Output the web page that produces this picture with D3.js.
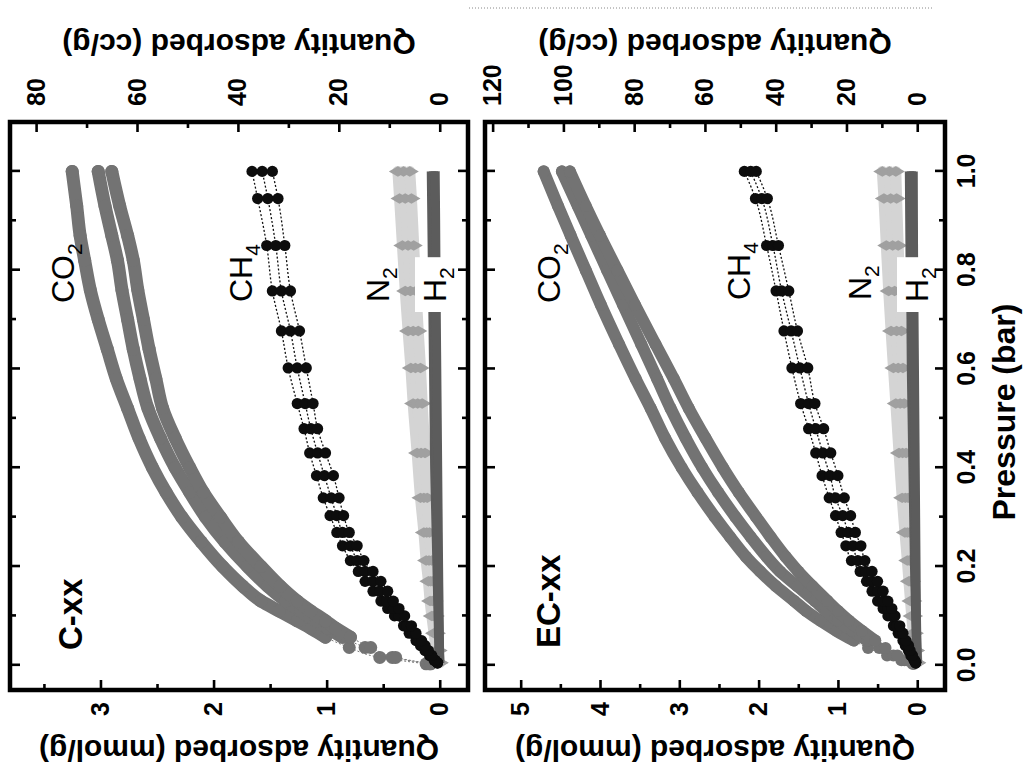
<!DOCTYPE html>
<html>
<head>
<meta charset="utf-8">
<script src="https://cdn.jsdelivr.net/npm/d3@7"></script>
<style>
  html, body { margin: 0; padding: 0; background: #fff; }
  svg { display: block; }
</style>
</head>
<body>
<svg id="chart" width="1028" height="774"></svg>
<script>
// ---------------- data ----------------
const panelNames = ["C-xx", "EC-xx"];
const pressureTicks = [0, 0.2, 0.4, 0.6, 0.8, 1.0];
const pressureMinor = [0.1, 0.3, 0.5, 0.7, 0.9];

const cxxMmolTicks = [0, 1, 2, 3];
const cxxMmolMinor = [0.5, 1.5, 2.5, 3.5];
const cxxCcTicks = [0, 20, 40, 60, 80];
const cxxCcMinor = [10, 30, 50, 70];
const ecxxMmolTicks = [0, 1, 2, 3, 4, 5];
const ecxxMmolMinor = [0.5, 1.5, 2.5, 3.5, 4.5];
const ecxxCcTicks = [0, 20, 40, 60, 80, 100, 120];
const ecxxCcMinor = [10, 30, 50, 70, 90, 110];

// CO2 uptake (mmol/g), three runs per material
const cxxCO2Pressure = [0.003, 0.016, 0.036, 0.057, 0.075, 0.09, 0.11, 0.13, 0.16, 0.2, 0.25, 0.3, 0.35, 0.4, 0.46, 0.52, 0.58, 0.64, 0.7, 0.76, 0.82, 0.87, 0.93, 1.0];
const cxxCO2 = [
  [0.12, 0.53, 0.80, 1.01, 1.14, 1.26, 1.42, 1.58, 1.74, 1.92, 2.11, 2.28, 2.42, 2.54, 2.66, 2.76, 2.86, 2.94, 3.02, 3.09, 3.14, 3.18, 3.21, 3.25],
  [0.09, 0.42, 0.66, 0.86, 0.99, 1.09, 1.23, 1.36, 1.52, 1.70, 1.90, 2.07, 2.21, 2.34, 2.47, 2.58, 2.65, 2.71, 2.76, 2.81, 2.85, 2.90, 2.96, 3.02],
  [0.08, 0.39, 0.61, 0.79, 0.92, 1.01, 1.14, 1.26, 1.41, 1.58, 1.78, 1.94, 2.09, 2.21, 2.34, 2.45, 2.51, 2.57, 2.62, 2.67, 2.71, 2.76, 2.83, 2.90]
];
const ecxxCO2Pressure = [0.003, 0.01, 0.02, 0.035, 0.05, 0.07, 0.09, 0.11, 0.13, 0.16, 0.19, 0.22, 0.26, 0.3, 0.35, 0.4, 0.46, 0.52, 0.58, 0.65, 0.73, 0.8, 0.87, 0.93, 1.0];
const ecxxCO2 = [
  [0.06, 0.20, 0.38, 0.62, 0.80, 1.02, 1.22, 1.40, 1.55, 1.78, 1.98, 2.16, 2.36, 2.55, 2.77, 2.97, 3.18, 3.36, 3.55, 3.76, 3.99, 4.18, 4.37, 4.53, 4.71],
  [0.05, 0.16, 0.30, 0.48, 0.63, 0.82, 1.00, 1.15, 1.29, 1.51, 1.73, 1.90, 2.10, 2.29, 2.51, 2.71, 2.92, 3.11, 3.28, 3.48, 3.71, 3.91, 4.11, 4.28, 4.48],
  [0.04, 0.13, 0.25, 0.40, 0.53, 0.70, 0.86, 1.00, 1.13, 1.32, 1.50, 1.66, 1.85, 2.03, 2.25, 2.45, 2.67, 2.88, 3.07, 3.30, 3.56, 3.78, 4.00, 4.18, 4.38]
];

// CH4 uptake (mmol/g)
const ch4Pressure = [0.005, 0.01, 0.02, 0.03, 0.04, 0.05, 0.065, 0.08, 0.1, 0.115, 0.13, 0.15, 0.17, 0.19, 0.212, 0.242, 0.269, 0.303, 0.339, 0.384, 0.43, 0.479, 0.53, 0.602, 0.677, 0.758, 0.85, 0.945, 1.0];
const cxxCH4 = [
  [0.02, 0.05, 0.09, 0.13, 0.17, 0.21, 0.27, 0.32, 0.40, 0.46, 0.52, 0.59, 0.66, 0.72, 0.79, 0.86, 0.91, 0.97, 1.03, 1.09, 1.15, 1.20, 1.26, 1.34, 1.40, 1.48, 1.53, 1.61, 1.66],
  [0.02, 0.04, 0.08, 0.12, 0.15, 0.19, 0.24, 0.29, 0.36, 0.41, 0.47, 0.53, 0.59, 0.66, 0.73, 0.79, 0.86, 0.91, 0.96, 1.02, 1.08, 1.14, 1.19, 1.26, 1.32, 1.40, 1.45, 1.52, 1.57],
  [0.02, 0.04, 0.07, 0.10, 0.13, 0.16, 0.21, 0.25, 0.31, 0.36, 0.41, 0.46, 0.52, 0.59, 0.67, 0.73, 0.80, 0.85, 0.89, 0.94, 1.01, 1.08, 1.12, 1.18, 1.24, 1.32, 1.37, 1.43, 1.48]
];
const ecxxCH4 = [
  [0.02, 0.04, 0.08, 0.11, 0.15, 0.18, 0.24, 0.30, 0.37, 0.43, 0.50, 0.57, 0.64, 0.72, 0.83, 0.90, 0.96, 1.03, 1.11, 1.20, 1.28, 1.37, 1.47, 1.58, 1.68, 1.78, 1.90, 2.04, 2.18],
  [0.02, 0.04, 0.07, 0.10, 0.13, 0.16, 0.21, 0.26, 0.32, 0.37, 0.43, 0.50, 0.57, 0.65, 0.75, 0.81, 0.87, 0.94, 1.03, 1.10, 1.19, 1.28, 1.37, 1.48, 1.59, 1.71, 1.82, 1.96, 2.10],
  [0.02, 0.03, 0.06, 0.09, 0.11, 0.14, 0.18, 0.22, 0.28, 0.32, 0.37, 0.43, 0.50, 0.57, 0.66, 0.71, 0.78, 0.84, 0.92, 1.00, 1.09, 1.18, 1.29, 1.38, 1.51, 1.62, 1.75, 1.89, 2.03]
];

// N2 uptake (mmol/g)
const n2Pressure = [0.005, 0.03, 0.065, 0.1, 0.13, 0.17, 0.212, 0.269, 0.339, 0.43, 0.53, 0.602, 0.677, 0.758, 0.85, 0.945, 1.0];
const cxxN2 = [
  [0.01, 0.03, 0.05, 0.07, 0.085, 0.10, 0.12, 0.14, 0.17, 0.20, 0.235, 0.255, 0.28, 0.305, 0.33, 0.355, 0.37],
  [0.005, 0.02, 0.035, 0.05, 0.065, 0.08, 0.095, 0.115, 0.14, 0.165, 0.195, 0.215, 0.235, 0.26, 0.28, 0.305, 0.32],
  [0, 0.01, 0.025, 0.035, 0.045, 0.06, 0.07, 0.09, 0.11, 0.13, 0.155, 0.17, 0.19, 0.21, 0.23, 0.25, 0.265]
];
const ecxxN2 = [
  [0.01, 0.03, 0.05, 0.07, 0.085, 0.105, 0.125, 0.155, 0.19, 0.23, 0.27, 0.30, 0.33, 0.36, 0.39, 0.42, 0.44],
  [0.005, 0.02, 0.04, 0.055, 0.07, 0.085, 0.10, 0.125, 0.15, 0.185, 0.215, 0.24, 0.26, 0.285, 0.31, 0.335, 0.35],
  [0, 0.015, 0.03, 0.04, 0.05, 0.065, 0.08, 0.095, 0.115, 0.14, 0.165, 0.18, 0.20, 0.22, 0.24, 0.26, 0.27]
];

// H2 uptake (mmol/g)
const h2Pressure = [0.005, 0.1, 0.2, 0.3, 0.4, 0.5, 0.6, 0.7, 0.8, 0.9, 1.0];
const cxxH2 = [
  [0.005, 0.015, 0.025, 0.035, 0.045, 0.05, 0.055, 0.06, 0.065, 0.07, 0.075],
  [0, 0.01, 0.018, 0.025, 0.03, 0.035, 0.04, 0.045, 0.05, 0.053, 0.056],
  [0, 0.005, 0.01, 0.014, 0.018, 0.022, 0.026, 0.03, 0.033, 0.036, 0.04]
];
const ecxxH2 = [
  [0.005, 0.02, 0.035, 0.045, 0.055, 0.065, 0.075, 0.08, 0.09, 0.095, 0.10],
  [0, 0.015, 0.025, 0.035, 0.04, 0.05, 0.055, 0.06, 0.065, 0.07, 0.075],
  [0, 0.01, 0.015, 0.02, 0.025, 0.03, 0.035, 0.04, 0.045, 0.048, 0.05]
];

// ---------------- layout ----------------
const FONT = "'Liberation Sans', Arial, Helvetica, sans-serif";
const MMOL_TO_CC = 22.414;          // cm3(STP) per mmol
const W0 = 774;                     // width of the upright figure (page height)
const PLOT_X0 = 84, PLOT_X1 = 652;

const svg = d3.select("#chart");
svg.append("rect").attr("width", 1028).attr("height", 774).attr("fill", "#fff");

// The figure is laid out upright and then turned a quarter-turn counter-clockwise.
const root = svg.append("g").attr("transform", `translate(0,${W0}) rotate(-90)`);

const x = d3.scaleLinear().domain([-0.05, 1.1]).range([PLOT_X0, PLOT_X1]);

const panels = [
  { key: "cxx", name: panelNames[0], y0: 10, y1: 468, mmolDomain: [-0.25, 3.8],
    mmolTicks: cxxMmolTicks, mmolMinor: cxxMmolMinor, ccTicks: cxxCcTicks, ccMinor: cxxCcMinor,
    co2P: cxxCO2Pressure, co2: cxxCO2, ch4: cxxCH4, n2: cxxN2, h2: cxxH2, showX: false,
    co2Width: 13,
    nameAt: [124, 82],
    gasAt: { CO2: [471, 74], CH4: [472, 252], N2: [472, 389], H2: [472, 446] } },
  { key: "ecxx", name: panelNames[1], y0: 485, y1: 945, mmolDomain: [-0.35, 5.45],
    mmolTicks: ecxxMmolTicks, mmolMinor: ecxxMmolMinor, ccTicks: ecxxCcTicks, ccMinor: ecxxCcMinor,
    co2P: ecxxCO2Pressure, co2: ecxxCO2, ch4: ecxxCH4, n2: ecxxN2, h2: ecxxH2, showX: true,
    co2Width: 12,
    nameAt: [126, 560],
    gasAt: { CO2: [471, 560], CH4: [474, 750], N2: [474, 871], H2: [472, 928] } }
];

function styleAxis(sel, size) {
  sel.select(".domain").remove();
  sel.selectAll(".tick line").attr("stroke", "#000").attr("stroke-width", 2.6);
  sel.selectAll(".tick text")
    .attr("fill", "#000")
    .style("font-family", FONT)
    .style("font-weight", "bold")
    .style("font-size", size + "px");
}

function gasLabel(g, main, sub, pos, knockout) {
  const t = g.append("text")
    .attr("x", pos[0]).attr("y", pos[1])
    .style("font-family", FONT).style("font-size", "32px").attr("fill", "#000");
  t.append("tspan").text(main);
  t.append("tspan").attr("dy", 8).style("font-size", "21px").text(sub);
  if (knockout) {
    const b = t.node().getBBox();
    g.insert("rect", () => t.node())
      .attr("x", b.x - 10).attr("y", b.y - 2)
      .attr("width", b.width + 20).attr("height", b.height + 6)
      .attr("fill", "#fff");
  }
}

panels.forEach(p => {
  const g = root.append("g").attr("class", "panel-" + p.key);
  const y = d3.scaleLinear().domain(p.mmolDomain).range([p.y1, p.y0]);
  const yc = d3.scaleLinear().domain(p.mmolDomain.map(v => v * MMOL_TO_CC)).range([p.y1, p.y0]);

  const clipId = "clip-" + p.key;
  g.append("clipPath").attr("id", clipId).append("rect")
    .attr("x", PLOT_X0).attr("y", p.y0)
    .attr("width", PLOT_X1 - PLOT_X0).attr("height", p.y1 - p.y0);
  const marks = g.append("g").attr("clip-path", `url(#${clipId})`);

  const line = d3.line().x(d => x(d[0])).y(d => y(d[1])).curve(d3.curveMonotoneX);
  const pts = (pr, vals) => pr.map((v, i) => [v, vals[i]]);

  // N2: pale band with diamond markers
  p.n2.forEach(vals => {
    marks.append("path").attr("d", line(pts(n2Pressure, vals)))
      .attr("fill", "none").attr("stroke", "#d4d4d4").attr("stroke-width", 11)
      .attr("stroke-linecap", "round").attr("stroke-linejoin", "round");
  });
  p.n2.forEach(vals => {
    marks.append("g").selectAll("path").data(pts(n2Pressure, vals)).join("path")
      .attr("d", d3.symbol(d3.symbolDiamond, 95))
      .attr("transform", d => `translate(${x(d[0])},${y(d[1])})`)
      .attr("fill", "#a0a0a0");
  });

  // H2: dark band along the baseline
  p.h2.forEach(vals => {
    marks.append("path").attr("d", line(pts(h2Pressure, vals)))
      .attr("fill", "none").attr("stroke", "#5c5c5c").attr("stroke-width", 9)
      .attr("stroke-linecap", "butt");
  });

  // CO2: thick grey bands, markers where points are sparse
  p.co2.forEach(vals => {
    const all = pts(p.co2P, vals);
    marks.append("path").attr("d", line(all))
      .attr("fill", "none").attr("stroke", "#777").attr("stroke-width", 1)
      .attr("stroke-dasharray", "2,2");
    marks.append("path").attr("d", line(all.filter(d => d[0] >= 0.05)))
      .attr("fill", "none").attr("stroke", "#737373").attr("stroke-width", p.co2Width)
      .attr("stroke-linecap", "round").attr("stroke-linejoin", "round");
    marks.append("g").selectAll("circle").data(all).join("circle")
      .attr("cx", d => x(d[0])).attr("cy", d => y(d[1])).attr("r", p.co2Width / 2)
      .attr("fill", "#737373");
  });

  // CH4: black markers joined by dotted lines
  p.ch4.forEach(vals => {
    marks.append("path").attr("d", line(pts(ch4Pressure, vals)))
      .attr("fill", "none").attr("stroke", "#111").attr("stroke-width", 1.3)
      .attr("stroke-dasharray", "2,2");
  });
  p.ch4.forEach(vals => {
    marks.append("g").selectAll("circle").data(pts(ch4Pressure, vals)).join("circle")
      .attr("cx", d => x(d[0])).attr("cy", d => y(d[1])).attr("r", 5.6)
      .attr("fill", "#0d0d0d");
  });

  // gas labels
  gasLabel(g, "CO", "2", p.gasAt.CO2, false);
  gasLabel(g, "CH", "4", p.gasAt.CH4, false);
  gasLabel(g, "N", "2", p.gasAt.N2, false);
  gasLabel(g, "H", "2", p.gasAt.H2, true);

  g.append("text").attr("x", p.nameAt[0]).attr("y", p.nameAt[1])
    .style("font-family", FONT).style("font-weight", "bold").style("font-size", "33px")
    .attr("fill", "#000").text(p.name);

  // pressure axis (ticks on both edges, labels only under the lower panel)
  const xb = g.append("g").attr("transform", `translate(0,${p.y1})`)
    .call(d3.axisBottom(x).tickValues(pressureTicks).tickSize(-10).tickPadding(12)
      .tickFormat(p.showX ? d3.format(".1f") : () => ""));
  styleAxis(xb, 25);
  styleAxis(g.append("g").attr("transform", `translate(0,${p.y1})`)
    .call(d3.axisBottom(x).tickValues(pressureMinor).tickSize(-6).tickFormat(() => "")), 25);
  styleAxis(g.append("g").attr("transform", `translate(0,${p.y0})`)
    .call(d3.axisTop(x).tickValues(pressureTicks).tickSize(-10).tickFormat(() => "")), 25);
  styleAxis(g.append("g").attr("transform", `translate(0,${p.y0})`)
    .call(d3.axisTop(x).tickValues(pressureMinor).tickSize(-6).tickFormat(() => "")), 25);

  // mmol/g axis
  styleAxis(g.append("g").attr("transform", `translate(${PLOT_X0},0)`)
    .call(d3.axisLeft(y).tickValues(p.mmolTicks).tickSize(-10).tickPadding(12).tickFormat(d3.format("d"))), 25);
  styleAxis(g.append("g").attr("transform", `translate(${PLOT_X0},0)`)
    .call(d3.axisLeft(y).tickValues(p.mmolMinor).tickSize(-6).tickFormat(() => "")), 25);

  // cc/g axis
  styleAxis(g.append("g").attr("transform", `translate(${PLOT_X1},0)`)
    .call(d3.axisRight(yc).tickValues(p.ccTicks).tickSize(-10).tickPadding(16).tickFormat(d3.format("d"))), 25);
  styleAxis(g.append("g").attr("transform", `translate(${PLOT_X1},0)`)
    .call(d3.axisRight(yc).tickValues(p.ccMinor).tickSize(-6).tickFormat(() => "")), 25);

  // frame
  g.append("rect").attr("x", PLOT_X0).attr("y", p.y0)
    .attr("width", PLOT_X1 - PLOT_X0).attr("height", p.y1 - p.y0)
    .attr("fill", "none").attr("stroke", "#000").attr("stroke-width", 4.5);

  // axis titles
  const mid = (p.y0 + p.y1) / 2;
  g.append("text").attr("transform", `translate(34,${mid}) rotate(-90)`)
    .attr("text-anchor", "middle")
    .style("font-family", FONT).style("font-weight", "bold").style("font-size", "30px")
    .text("Quantity adsorbed (mmol/g)");
  g.append("text").attr("transform", `translate(740,${mid}) rotate(-90)`)
    .attr("text-anchor", "middle")
    .style("font-family", FONT).style("font-weight", "bold").style("font-size", "30px")
    .text("Quantity adsorbed (cc/g)");
});

root.append("text").attr("x", (PLOT_X0 + PLOT_X1) / 2 - 6).attr("y", 1015)
  .attr("text-anchor", "middle")
  .style("font-family", FONT).style("font-weight", "bold").style("font-size", "32px")
  .text("Pressure (bar)");

// faint dotted rule along the upper edge
root.append("line").attr("x1", 766).attr("x2", 766).attr("y1", 469).attr("y2", 934)
  .attr("stroke", "#888").attr("stroke-width", 1).attr("stroke-dasharray", "1,2");
</script>
</body>
</html>
